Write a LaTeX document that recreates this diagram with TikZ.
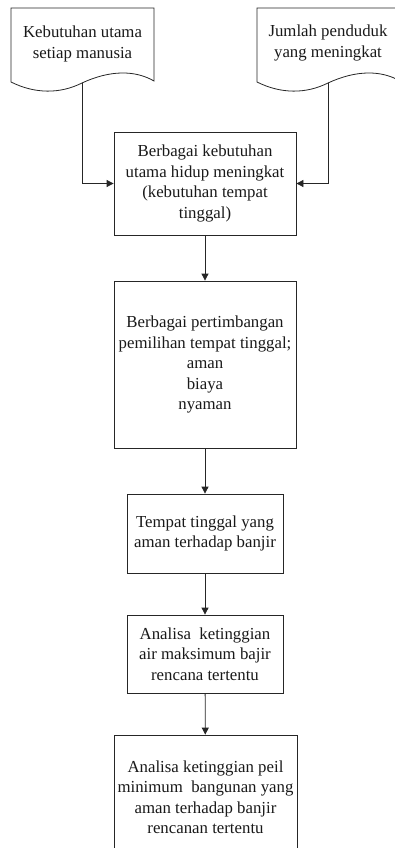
\documentclass[tikz,border=0pt]{standalone}
\usepackage{fontspec}
\setmainfont{Liberation Serif}
\usetikzlibrary{arrows.meta}
\begin{document}
\begin{tikzpicture}[x=1pt,y=-1pt,
  txt/.style={font=\fontsize{16.8}{20.5}\selectfont, align=center, inner sep=0pt, text=black!90},
  procbox/.style={txt, draw=black!85, line width=0.8pt},
  docline/.style={draw=black!85, line width=0.8pt},
  flow/.style={draw=black!85, line width=0.8pt, -{Triangle[length=7pt,width=7pt]}}]
\useasboundingbox (0,0) rectangle (395,848);
\clip (0,0) rectangle (395,848);
% document shapes
\draw[docline] (11,82) -- (11,8) -- (154,8) -- (154,81)
  .. controls (135,70) and (110,70) .. (82,83)
  .. controls (60,94) and (35,94) .. (11,82) -- cycle;
\coordinate (d1b) at (82,83);
\node[txt] (d1) at (82.5,44) {Kebutuhan utama\\setiap manusia};
\draw[docline] (257,82) -- (257,8) -- (400,8) -- (400,81)
  .. controls (381,70) and (356,70) .. (328,83)
  .. controls (306,94) and (281,94) .. (257,82) -- cycle;
\coordinate (d2b) at (328,83);
\node[txt] (d2) at (328,43) {Jumlah penduduk\\yang meningkat};
% process boxes
\node[procbox, minimum width=182pt, minimum height=103pt] (b1) at (205,183.5)
  {Berbagai kebutuhan\\utama hidup meningkat\\(kebutuhan tempat\\tinggal)};
\node[procbox, minimum width=182pt, minimum height=167pt] (b2) at (205,364.5)
  {Berbagai pertimbangan\\pemilihan tempat tinggal;\\aman\\biaya\\nyaman};
\node[procbox, minimum width=156pt, minimum height=79pt] (b3) at (205,533.5)
  {Tempat tinggal yang\\aman terhadap banjir};
\node[procbox, minimum width=156pt, minimum height=78pt] (b4) at (205,654)
  {Analisa\ \ ketinggian\\air maksimum bajir\\rencana tertentu};
\node[procbox, minimum width=183pt, minimum height=124pt] (b5) at (205.5,797)
  {Analisa ketinggian peil\\minimum\ \ bangunan yang\\aman terhadap banjir\\rencanan tertentu};
% connectors
\draw[flow] (d1b) |- (b1.west);
\draw[flow] (d2b) |- (b1.east);
\draw[flow] (b1) -- (b2);
\draw[flow] (b2) -- (b3);
\draw[flow] (b3) -- (b4);
\draw[flow] (b4) -- (b5);
\end{tikzpicture}
\end{document}
